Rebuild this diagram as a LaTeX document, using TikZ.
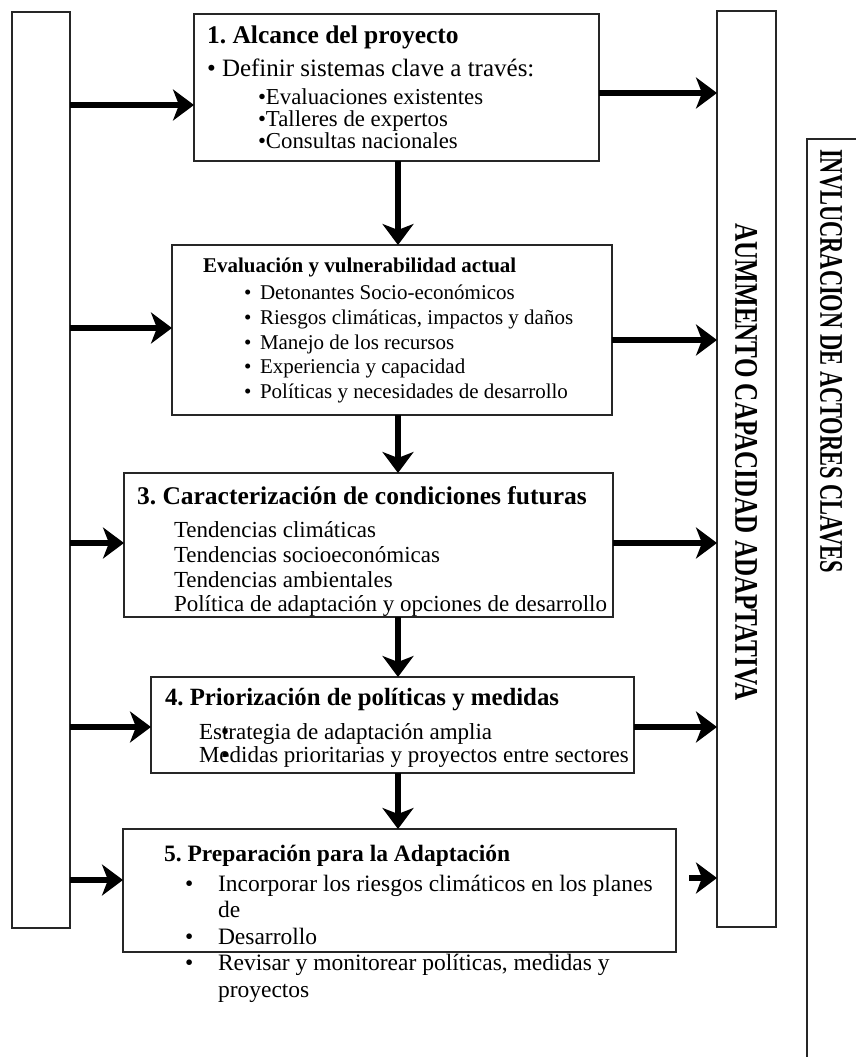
\documentclass[tikz,border=0pt]{standalone}
\usepackage{fontspec}
\usepackage{graphicx}
\setmainfont{Liberation Serif}
\usetikzlibrary{arrows.meta}
\frenchspacing
\tikzset{
  frame/.style={draw=black!85, line width=1.2pt, inner sep=0pt, outer sep=0pt, anchor=north west},
  arr/.style={line width=5.5pt, -{Stealth[length=21pt,width=31pt,inset=6pt]}},
  txt/.style={anchor=base west, inner sep=0pt, outer sep=0pt},
  ttlA/.style={txt, font=\fontsize{25.5}{30}\selectfont\bfseries},
  ttlB/.style={txt, font=\fontsize{21}{25}\selectfont\bfseries},
  ttlC/.style={txt, font=\fontsize{23.5}{29}\selectfont\bfseries},
  ttlD/.style={txt, font=\fontsize{24.8}{29}\selectfont\bfseries},
  bodyA/.style={txt, font=\fontsize{25}{29}\selectfont},
  bodyB/.style={txt, font=\fontsize{22.8}{26}\selectfont},
  bodyC/.style={txt, font=\fontsize{21}{25}\selectfont},
  bodyD/.style={txt, font=\fontsize{23}{27}\selectfont},
  bodyE/.style={txt, font=\fontsize{23.5}{27}\selectfont},
  vert/.style={rotate=-90, inner sep=0pt, font=\fontsize{33}{33}\selectfont\bfseries}
}
\begin{document}
\begin{tikzpicture}[x=1pt,y=-1pt]
\useasboundingbox (0,0) rectangle (856,1057);
\clip (0,0) rectangle (856,1057);
% side boxes
\node[frame, minimum width=58pt, minimum height=916pt] (L) at (12,12) {};
\node[frame, minimum width=59pt, minimum height=916pt] (R) at (717,11) {};
\node[frame, minimum width=90pt, minimum height=1000pt] (K) at (807,139) {};
% main boxes
\node[frame, minimum width=405pt, minimum height=147pt] (b1) at (194,14) {};
\node[frame, minimum width=440pt, minimum height=170pt] (b2) at (172,245) {};
\node[frame, minimum width=489pt, minimum height=144pt] (b3) at (124,473) {};
\node[frame, minimum width=483pt, minimum height=96pt] (b4) at (151,677) {};
\node[frame, minimum width=553pt, minimum height=123pt] (b5) at (123,829) {};
% box 1 text
\node[ttlA] (t1) at (207,44) {1. Alcance del proyecto};
\node[bodyA] (t1a) at (207,76) {• Definir sistemas clave a través:};
\node[bodyB] (t1b) at (258,104) {•Evaluaciones existentes};
\node[bodyB] (t1c) at (258,126) {•Talleres de expertos};
\node[bodyB] (t1d) at (258,148) {•Consultas nacionales};
% box 2 text
\node[ttlB] (t2) at (203,272) {Evaluación y vulnerabilidad actual};
\foreach \yy/\tt [count=\i] in {299/Detonantes Socio-económicos, 324/{Riesgos climáticas, impactos y daños}, 349/Manejo de los recursos, 373/Experiencia y capacidad, 398/Políticas y necesidades de desarrollo}{
  \node[bodyC] (t2b\i) at (244,\yy) {•};
  \node[bodyC] (t2t\i) at (260,\yy) {\tt};
}
% box 3 text
\node[ttlA] (t3) at (137,504) {3. Caracterización de condiciones futuras};
\node[bodyD] (t3a) at (174,537) {Tendencias climáticas};
\node[bodyD] (t3b) at (174,562) {Tendencias socioeconómicas};
\node[bodyD] (t3c) at (174,587) {Tendencias ambientales};
\node[bodyD] (t3d) at (174,611) {Política de adaptación y opciones de desarrollo};
% box 4 text
\node[ttlD] (t4) at (165,705) {4. Priorización de políticas y medidas};
\node[bodyD] (t4a) at (199,739) {Estrategia de adaptación amplia};
\node[bodyD] (t4b) at (199,762) {Medidas prioritarias y proyectos entre sectores};
\node[bodyD] (t4ab) at (221,739) {•};
\node[bodyD] (t4bb) at (221,762) {•};
% box 5 text
\node[ttlC] (t5) at (164,861) {5. Preparación para la Adaptación};
\node[bodyE] (t5ab) at (185,891) {•};
\node[bodyE] (t5a) at (218,891) {Incorporar los riesgos climáticos en los planes};
\node[bodyE] (t5b) at (218,917) {de};
\node[bodyE] (t5cb) at (185,944) {•};
\node[bodyE] (t5c) at (218,944) {Desarrollo};
\node[bodyE] (t5db) at (185,970) {•};
\node[bodyE] (t5d) at (218,970) {Revisar y monitorear políticas, medidas y};
\node[bodyE] (t5e) at (218,997) {proyectos};
% vertical labels
\node[vert] (aum) at (746,462) {\scalebox{0.76}[1]{AUMMENTO CAPACIDAD ADAPTATIVA}};
\node[vert] (inv) at (831,361) {\scalebox{0.68}[1]{INVLUCRACION DE ACTORES CLAVES}};
% arrow levels
\coordinate (y1i) at (0,105);
\coordinate (y1o) at (0,93);
\coordinate (y2i) at (0,328);
\coordinate (y2o) at (0,340);
\coordinate (y3i) at (0,543);
\coordinate (y3o) at (0,543);
\coordinate (y4i) at (0,727);
\coordinate (y4o) at (0,727);
\coordinate (y5i) at (0,880);
\coordinate (s5) at (689,878);
\coordinate (dx) at (398,0);
% left -> boxes
\draw[arr] (L.east |- y1i) -- (b1.west |- y1i);
\draw[arr] (L.east |- y2i) -- (b2.west |- y2i);
\draw[arr] (L.east |- y3i) -- (b3.west |- y3i);
\draw[arr] (L.east |- y4i) -- (b4.west |- y4i);
\draw[arr] (L.east |- y5i) -- (b5.west |- y5i);
% boxes -> right
\draw[arr] (b1.east |- y1o) -- (R.west |- y1o);
\draw[arr] (b2.east |- y2o) -- (R.west |- y2o);
\draw[arr] (b3.east |- y3o) -- (R.west |- y3o);
\draw[arr] (b4.east |- y4o) -- (R.west |- y4o);
\draw[arr] (s5) -- (R.west |- s5);
% downward chain
\draw[arr] (b1.south -| dx) -- (b2.north -| dx);
\draw[arr] (b2.south -| dx) -- (b3.north -| dx);
\draw[arr] (b3.south -| dx) -- (b4.north -| dx);
\draw[arr] (b4.south -| dx) -- (b5.north -| dx);
\end{tikzpicture}
\end{document}
